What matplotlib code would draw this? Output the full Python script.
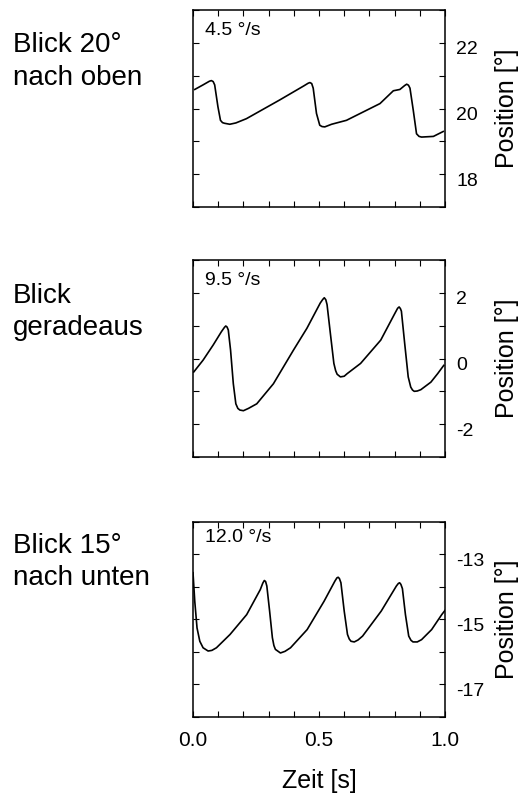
import numpy as np
import matplotlib
matplotlib.use("Agg")
import matplotlib.pyplot as plt
import matplotlib.transforms as mtransforms

plt.rcParams['font.family'] = ['Liberation Sans', 'DejaVu Sans']
plt.rcParams['axes.unicode_minus'] = False

# panel texts
left_labels = [["Blick 20°", "nach oben"], ["Blick", "geradeaus"], ["Blick 15°", "nach unten"]]
speed_labels = ["4.5 °/s", "9.5 °/s", "12.0 °/s"]
ylims = [(17, 23), (-3, 3), (-18, -12)]
ytick_labels = [[18, 20, 22], [-2, 0, 2], [-17, -15, -13]]
xtick_labels = [0.0, 0.5, 1.0]

# traces (time [s], position [deg])
t_up = [0.007, 0.04, 0.065, 0.073, 0.08, 0.086, 0.099, 0.109, 0.117, 0.125, 0.146, 0.17,
        0.212, 0.344, 0.44, 0.457, 0.464, 0.471, 0.477, 0.49, 0.503, 0.512, 0.523, 0.55,
        0.609, 0.742, 0.795, 0.821, 0.84, 0.848, 0.855, 0.861, 0.874, 0.887, 0.897, 0.907,
        0.954, 0.993]
p_up = [20.58, 20.72, 20.83, 20.85, 20.82, 20.72, 20.05, 19.64, 19.57, 19.55, 19.52, 19.56,
        19.69, 20.26, 20.69, 20.77, 20.79, 20.76, 20.62, 19.85, 19.49, 19.45, 19.44, 19.52,
        19.64, 20.15, 20.54, 20.58, 20.7, 20.74, 20.71, 20.62, 19.95, 19.23, 19.15, 19.13,
        19.15, 19.30]

t_mid = [0.003, 0.04, 0.08, 0.113, 0.125, 0.13, 0.135, 0.14, 0.149, 0.16, 0.17, 0.178,
         0.186, 0.2, 0.22, 0.253, 0.319, 0.399, 0.452, 0.505, 0.515, 0.521, 0.527, 0.532,
         0.545, 0.559, 0.566, 0.572, 0.585, 0.6, 0.612, 0.665, 0.745, 0.798, 0.812, 0.818,
         0.823, 0.827, 0.84, 0.854, 0.864, 0.871, 0.878, 0.89, 0.904, 0.944, 0.971, 0.995]
p_mid = [-0.41, -0.05, 0.41, 0.82, 0.95, 0.99, 0.96, 0.87, 0.26, -0.77, -1.38, -1.52,
         -1.57, -1.59, -1.52, -1.38, -0.77, 0.26, 0.92, 1.69, 1.8, 1.85, 1.79, 1.64,
         0.77, -0.15, -0.37, -0.48, -0.56, -0.54, -0.46, -0.15, 0.56, 1.33, 1.53, 1.57,
         1.52, 1.44, 0.46, -0.56, -0.87, -0.96, -1.0, -0.99, -0.95, -0.72, -0.46, -0.21]

t_down = [0.0, 0.007, 0.016, 0.027, 0.04, 0.06, 0.075, 0.093, 0.147, 0.213, 0.267, 0.277,
          0.283, 0.288, 0.293, 0.304, 0.315, 0.321, 0.327, 0.347, 0.365, 0.387, 0.453,
          0.52, 0.563, 0.571, 0.576, 0.581, 0.587, 0.6, 0.613, 0.62, 0.627, 0.64, 0.655,
          0.673, 0.747, 0.807, 0.815, 0.82, 0.825, 0.831, 0.843, 0.856, 0.865, 0.873,
          0.89, 0.907, 0.947, 0.987, 1.0]
p_down = [-13.56, -14.44, -15.26, -15.67, -15.87, -15.97, -15.95, -15.87, -15.46, -14.85,
          -14.08, -13.88, -13.8, -13.83, -13.97, -14.74, -15.56, -15.8, -15.92, -16.03,
          -15.98, -15.87, -15.31, -14.44, -13.82, -13.72, -13.7, -13.74, -13.87, -14.74,
          -15.46, -15.6, -15.67, -15.69, -15.63, -15.51, -14.74, -13.97, -13.89, -13.87,
          -13.92, -14.05, -14.85, -15.51, -15.64, -15.69, -15.69, -15.62, -15.31, -14.85,
          -14.72]

traces = [(t_up, p_up), (t_mid, p_mid), (t_down, p_down)]

W, H = 526, 798
fig = plt.figure(figsize=(W / 100, H / 100), dpi=100)

# axes boxes in pixels: (left, top, right, bottom)
boxes = [(193, 10, 445, 207), (193, 260, 445, 457), (193, 522, 445, 717)]
text_base = [(52, 85), (303, 335), (553, 585)]
label_shift = mtransforms.ScaledTranslation(0, -5 / 100, fig.dpi_scale_trans)

for i, (box, (t, p)) in enumerate(zip(boxes, traces)):
    l, tp, r, b = box
    ax = fig.add_axes([l / W, 1 - b / H, (r - l) / W, (b - tp) / H])
    ax.plot(t, p, color='black', lw=1.2, solid_joinstyle='round')
    ax.set_xlim(0, 1.0)
    ax.set_ylim(*ylims[i])
    ax.set_yticks(ytick_labels[i])
    ax.set_yticks(np.arange(ylims[i][0], ylims[i][1] + 0.5, 1), minor=True)
    ax.set_xticks(xtick_labels)
    ax.set_xticks(np.arange(0, 1.01, 0.1), minor=True)
    ax.tick_params(which='both', direction='in', top=True, bottom=True, left=True, right=True,
                   labelleft=False, labelright=True, labelbottom=(i == 2),
                   length=4, width=0.8, labelsize=14, pad=8)
    ax.tick_params(axis='x', pad=10, labelsize=15)
    ax.set_xticklabels([f"{v:.1f}" for v in xtick_labels])
    for lab in ax.get_yticklabels():
        lab.set_transform(lab.get_transform() + label_shift)
    if i == 2:
        ax.set_xlabel("Zeit [s]", fontsize=18, labelpad=14)
    for s in ax.spines.values():
        s.set_linewidth(1.1)
    ax.yaxis.set_label_position('right')
    ax.set_ylabel("Position [°]", fontsize=18)
    ax.yaxis.set_label_coords(1.2, 0.5)
    ax.text(0.048, 0.875 if i < 2 else 0.897, speed_labels[i], transform=ax.transAxes,
            fontsize=14, va='baseline', ha='left')
    for line, yb in zip(left_labels[i], text_base[i]):
        fig.text(13 / W, 1 - yb / H, line, fontsize=20, va='baseline', ha='left')

fig.savefig("out.png", dpi=100)
